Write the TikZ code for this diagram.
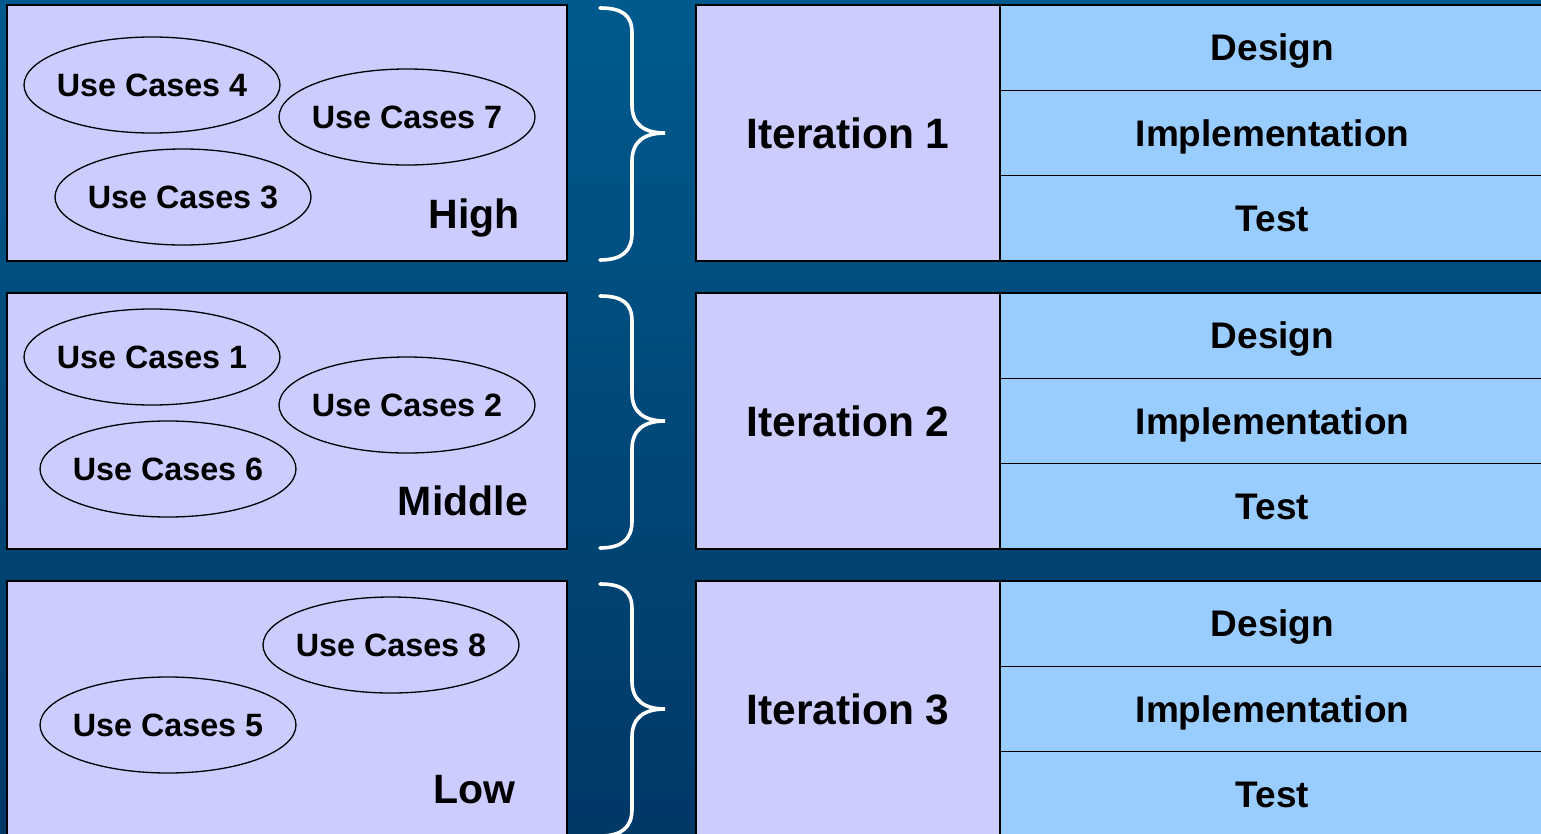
\documentclass[tikz,border=0pt]{standalone}
\usepackage{fontspec}
\setmainfont{Liberation Sans}
\usetikzlibrary{shapes.geometric}
\definecolor{bgtop}{RGB}{0,90,142}
\definecolor{bgbot}{RGB}{0,56,102}
\definecolor{lav}{RGB}{204,204,255}
\definecolor{sky}{RGB}{153,204,255}
\newcommand{\zw}[1]{\makebox[0pt]{#1}}
\tikzset{
  lbox/.style={draw=black, line width=1.6pt, fill=lav, minimum width=560pt, minimum height=256pt, inner sep=0pt},
  ibox/.style={draw=black, line width=1.6pt, fill=lav, minimum width=304pt, minimum height=256pt, inner sep=0pt, text height=30.4pt, text depth=0pt, font=\fontsize{42.5}{48}\selectfont\bfseries},
  pbox/.style={draw=black, line width=1.6pt, fill=sky, minimum width=545pt, minimum height=85.33pt, inner sep=0pt, text height=26.5pt, text depth=0pt, font=\fontsize{37}{42}\selectfont\bfseries},
  uc/.style={ellipse, draw=black, line width=1.3pt, minimum width=256pt, minimum height=96pt, inner sep=0pt, text height=23pt, text depth=0pt, font=\fontsize{32.3}{36}\selectfont\bfseries},
  prio/.style={anchor=base east, inner sep=0pt, font=\fontsize{41}{46}\selectfont\bfseries},
  brace/.style={draw=white, line width=3.6pt, line cap=round}
}
\begin{document}
\begin{tikzpicture}[x=1pt,y=-1pt]
\useasboundingbox (0,0) rectangle (1541,833);
\shade[top color=bgtop, bottom color=bgbot] (0,0) rectangle (1541,833);
\begin{scope}
\clip (0,0) rectangle (1541,833);
% Row 1
\node[lbox] (L1) at (287,133) {};
\node[uc] (u4) at (152,85) {\zw{Use Cases 4}};
\node[uc] (u7) at (407,117) {\zw{Use Cases 7}};
\node[uc] (u3) at (183,197) {\zw{Use Cases 3}};
\node[prio] (p1) at (520,228) {High};
\node[ibox] (I1) at (848,133) {Iteration 1};
\node[pbox] (d1) at (1272.5,47.67) {Design};
\node[pbox] (m1) at (1272.5,133) {Implementation};
\node[pbox] (t1) at (1272.5,218.33) {Test};
% Row 2
\node[lbox] (L2) at (287,421) {};
\node[uc] (u1) at (152,357) {\zw{Use Cases 1}};
\node[uc] (u2) at (407,405) {\zw{Use Cases 2}};
\node[uc] (u6) at (168,469) {\zw{Use Cases 6}};
\node[prio] (p2) at (528,515) {Middle};
\node[ibox] (I2) at (848,421) {Iteration 2};
\node[pbox] (d2) at (1272.5,335.67) {Design};
\node[pbox] (m2) at (1272.5,421) {Implementation};
\node[pbox] (t2) at (1272.5,506.33) {Test};
% Row 3
\node[lbox] (L3) at (287,709) {};
\node[uc] (u8) at (391,645) {\zw{Use Cases 8}};
\node[uc] (u5) at (168,725) {\zw{Use Cases 5}};
\node[prio] (p3) at (516,803) {Low};
\node[ibox] (I3) at (848,709) {Iteration 3};
\node[pbox] (d3) at (1272.5,623.67) {Design};
\node[pbox] (m3) at (1272.5,709) {Implementation};
\node[pbox] (t3) at (1272.5,794.33) {Test};
\end{scope}
% Braces
\foreach \t/\m/\b in {5/133/261, 293/421/549, 581/709/837}{
  \draw[brace] (600,\t+3) .. controls (622,\t+3) and (632,\t+10) .. (632,\t+28)
    -- (632,\m-28) .. controls (632,\m-8) and (645,\m) .. (665,\m)
    .. controls (645,\m) and (632,\m+8) .. (632,\m+28)
    -- (632,\b-28) .. controls (632,\b-10) and (622,\b-1) .. (600,\b-1);
}
\end{tikzpicture}
\end{document}
